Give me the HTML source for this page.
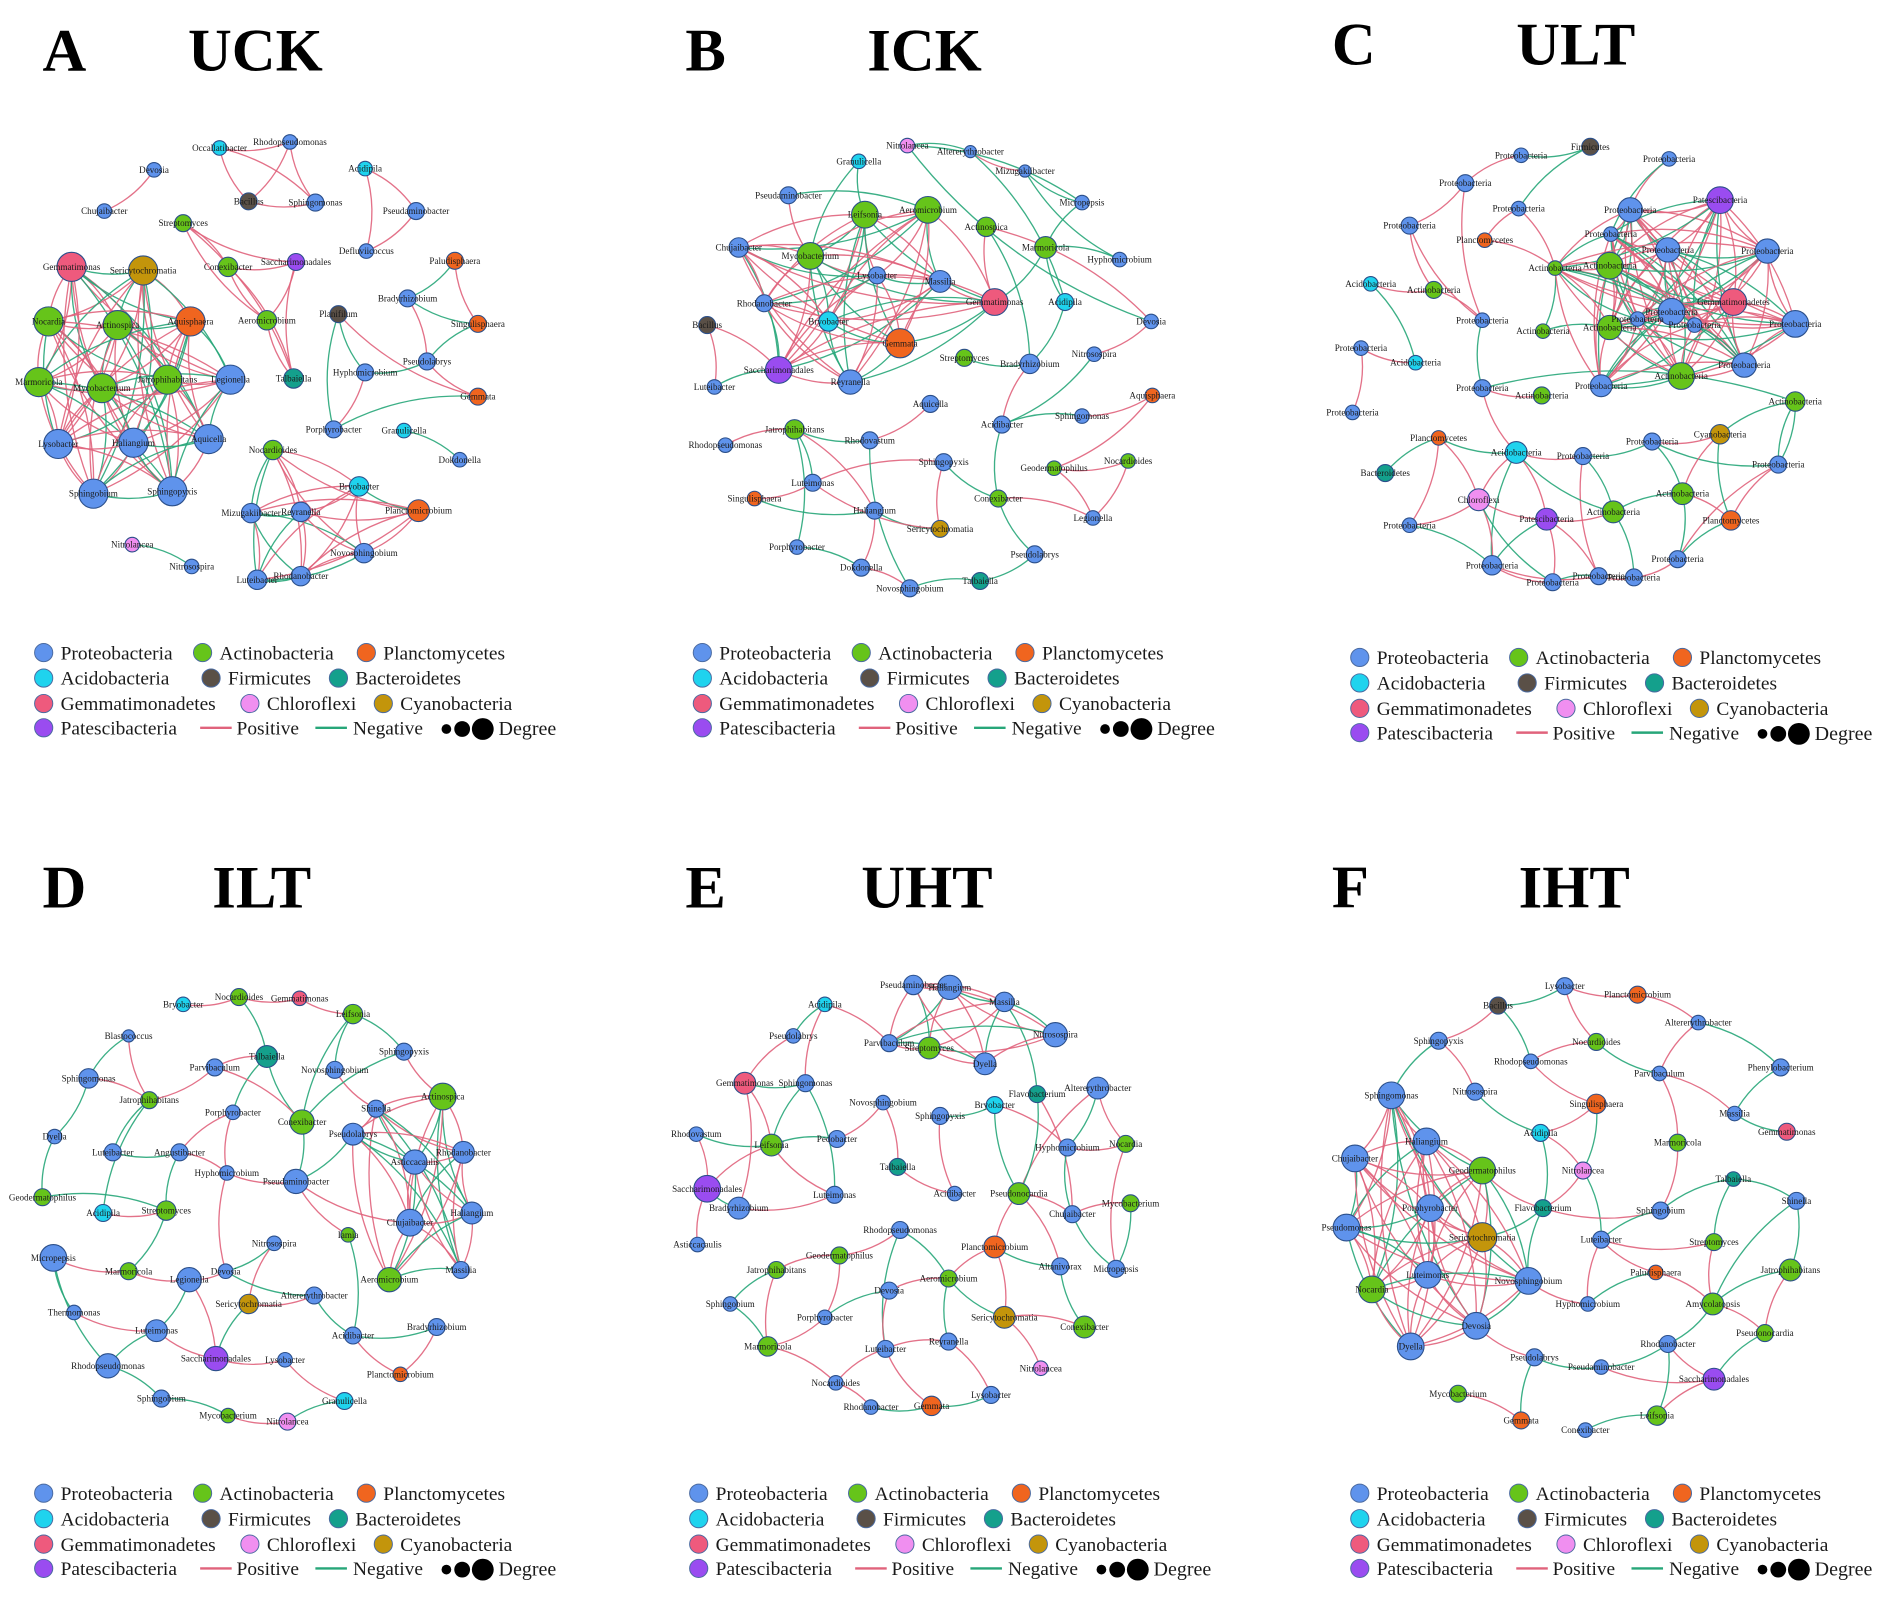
<!DOCTYPE html>
<html><head><meta charset="utf-8"><style>
html,body{margin:0;padding:0;background:#fff;}
svg{display:block;}
text{font-family:"Liberation Serif",serif;}
</style></head><body>
<svg id="fig" xmlns="http://www.w3.org/2000/svg" width="1902" height="1598" viewBox="0 0 1568 1317.4">
<rect width="1568" height="1317.4" fill="#fff"/>
</svg>
<script>
const phylumColors = {p:"#5f93ec",a:"#66c41a",pl:"#f0651f",ac:"#1fd3ee",f:"#5a5047",b:"#14a08c",g:"#ee5a7d",c:"#f08ff0",cy:"#c3950b",pa:"#9a4cf0"};
const phylumNames = {p:"Proteobacteria",a:"Actinobacteria",pl:"Planctomycetes",ac:"Acidobacteria",f:"Firmicutes",b:"Bacteroidetes",g:"Gemmatimonadetes",c:"Chloroflexi",cy:"Cyanobacteria",pa:"Patescibacteria"};
const posColor="#e0637c", negColor="#27a679";

const panelLetters=["A","B","C","D","E","F"];
const panelTitles=["UCK","ICK","ULT","ILT","UHT","IHT"];

const nodesA="Occallatibacter,181,122,ac,6;Rhodopseudomonas,239,117,p,6;Devosia,127,140,p,6;Acidipila,301,139,ac,6;Chujaibacter,86,174,p,6;Bacillus,205,166,f,7;Sphingomonas,260,167,p,7;Pseudaminobacter,343,174,p,7;Streptomyces,151,184,a,7;Defluviicoccus,302,207,p,6;Gemmatimonas,59,220,g,12;Sericytochromatia,118,223,cy,12;Conexibacter,188,220,a,8;Saccharimonadales,244,216,pa,7;Paludisphaera,375,215,pl,7;Nocardia,40,265,a,12;Actinospica,97,268,a,12;Aquisphaera,157,265,pl,12;Bradyrhizobium,336,246,p,7;Aeromicrobium,220,264,a,8;Planifilum,279,259,f,7;Singulisphaera,394,267,pl,7;Marmoricola,32,315,a,12;Mycobacterium,84,320,a,12;Jatrophihabitans,138,313,a,12;Legionella,190,313,p,12;Talbaiella,242,312,b,8;Hyphomicrobium,301,307,p,7;Pseudolabrys,352,298,p,7;Gemmata,394,327,pl,7;Lysobacter,48,366,p,12;Haliangium,110,365,p,12;Aquicella,172,362,p,12;Porphyrobacter,275,354,p,7;Granulicella,333,355,ac,6;Nocardioides,225,371,a,8;Dokdonella,379,379,p,6;Sphingobium,77,407,p,12;Sphingopyxis,142,405,p,12;Bryobacter,296,401,ac,8;Mizugakiibacter,207,423,p,8;Reyranella,248,422,p,8;Planctomicrobium,345,421,pl,9;Nitrolancea,109,449,c,6;Novosphingobium,300,456,p,8;Nitrosospira,158,467,p,6;Luteibacter,212,478,p,8;Rhodanobacter,248,475,p,8";
const edgesA="0-1+,0-5+,0-6+,1-5+,1-6+,5-6+,2-4+,3-7+,3-9+,7-9+,8-12+,8-13+,8-26+,8-19+,12-13+,12-19+,12-26+,13-19+,13-26+,19-26+,14-18-,14-21+,18-21-,18-28+,21-28-,20-27-,20-33-,20-29+,27-33+,27-28-,28-29+,33-29-,34-36-,43-45-";
const clustersA=[[10,11,15,16,17,22,23,24,25,30,31,32,37,38],[35,39,40,41,42,44,46,47]];

const nodesB="Nitrolancea,748,120,c,6;Granulicella,708,133,ac,6;Altererythrobacter,800,125,p,5;Mizugakiibacter,845,141,p,5;Micropepsis,892,167,p,6;Pseudaminobacter,650,161,p,7;Leifsonia,713,177,a,11;Aeromicrobium,765,173,a,11;Actinospica,813,187,a,8;Marmoricola,862,204,a,9;Hyphomicrobium,923,214,p,6;Chujaibacter,609,204,p,8;Mycobacterium,668,211,a,11;Lysobacter,723,227,p,7;Massilia,775,232,p,9;Gemmatimonas,820,249,g,11;Acidipila,878,249,ac,7;Rhodanobacter,630,250,p,7;Bryobacter,683,265,ac,8;Devosia,949,265,p,6;Bacillus,583,268,f,7;Gemmata,742,283,pl,12;Saccharimonadales,642,305,pa,11;Streptomyces,795,295,a,7;Bradyrhizobium,849,300,p,8;Nitrosospira,902,292,p,6;Luteibacter,589,319,p,6;Reyranella,701,315,p,10;Aquisphaera,950,326,pl,6;Aquicella,767,333,p,7;Sphingomonas,892,343,p,6;Acidibacter,826,350,p,7;Jatrophihabitans,655,354,a,8;Rhodovastum,717,363,p,7;Rhodopseudomonas,598,367,p,6;Sphingopyxis,778,381,p,7;Geodermatophilus,869,386,a,6;Nocardioides,930,380,a,6;Luteimonas,670,398,p,7;Singulisphaera,622,411,pl,6;Conexibacter,823,411,a,7;Legionella,901,427,p,6;Haliangium,721,421,p,7;Sericytochromatia,775,436,cy,7;Porphyrobacter,657,451,p,6;Pseudolabrys,853,457,p,7;Dokdonella,710,468,p,7;Talbaiella,808,479,b,7;Novosphingobium,750,485,p,7";
const edgesB="0-2-,0-19-,1-6-,2-3+,3-4-,3-10-,4-9-,9-15-,9-16-,8-15+,8-24-,16-24-,19-25+,25-31-,24-31+,23-24-,28-30+,30-31-,28-36+,36-37+,31-40-,37-41+,20-22+,20-26+,26-22-,32-33-,32-38-,32-44-,32-42+,34-32+,39-42-,39-38+,42-43-,43-35+,35-40-,40-45-,45-47-,47-48-,46-48+,44-46-,42-46+,38-43+,35-38+,29-33+,33-48-,41-40+,41-36+,5-12+,5-7-,10-9-,1-12-,0-4-,2-16-,19-8+";
const clustersB=[[6,7,12,13,14,15,18,21,22,27,11,17]];

const nodesC="0,1254,128,p,6;1,1311,121,f,7;2,1376,131,p,6;3,1208,151,p,7;4,1252,172,p,6;5,1344,173,p,10;6,1418,165,pa,11;7,1162,186,p,7;8,1224,198,pl,6;9,1328,193,p,6;10,1375,206,p,10;11,1457,207,p,10;12,1282,221,a,6;13,1327,219,a,11;14,1429,249,g,11;15,1130,234,ac,6;16,1182,239,a,7;17,1378,257,p,11;18,1350,263,p,6;19,1327,270,a,10;20,1480,267,p,11;21,1397,268,p,6;22,1222,264,p,6;23,1272,273,a,6;24,1122,287,p,6;25,1167,299,ac,6;26,1386,310,a,11;27,1438,301,p,10;28,1320,318,p,9;29,1222,320,p,7;30,1271,326,a,7;31,1480,331,a,8;32,1115,340,p,6;33,1186,361,pl,6;34,1250,373,ac,9;35,1305,376,p,7;36,1362,364,p,7;37,1418,358,cy,8;38,1142,390,b,7;39,1466,383,p,7;40,1387,407,a,9;41,1219,412,c,9;42,1275,428,pa,9;43,1330,422,a,9;44,1427,429,pl,8;45,1162,433,p,6;46,1383,461,p,7;47,1230,466,p,8;48,1318,475,p,7;49,1347,476,p,7;50,1280,480,p,7";
const edgesC="0-1-,1-4-,0-3+,3-7+,7-16+,7-22+,3-22+,8-4+,8-12+,15-16+,15-25-,16-22+,24-25+,24-32+,22-29-,29-30+,23-19-,23-12-,29-31-,33-41+,33-38-,2-5+,2-9-,4-12+,34-35+,34-42+,34-41+,34-47-,35-36-,35-43-,36-37+,36-39-,37-31-,37-40+,39-31-,39-44+,40-43-,40-44+,40-46-,42-43+,42-48+,42-47-,41-47+,41-45+,45-47-,47-50+,50-48-,48-49+,49-46+,46-44-,43-49-,42-50+,41-42+,36-40-,35-48+,34-43-,39-46+,37-44-,31-39-,33-45+,41-50-,47-48+,33-34-,29-34+";
const clustersC=[[5,6,9,10,11,13,14,17,18,19,20,21,26,27,28,12]];

const nodesD="Bryobacter,151,828,ac,6;Nocardioides,197,822,a,7;Gemmatimonas,247,823,g,6;Leifsonia,291,836,a,8;Blastococcus,106,854,p,5;Talbaiella,220,871,b,9;Parvibaculum,177,880,p,7;Sphingopyxis,333,867,p,7;Novosphingobium,276,882,p,7;Sphingomonas,73,889,p,8;Actinospica,365,904,a,11;Jatrophihabitans,123,907,a,7;Porphyrobacter,192,917,p,6;Shinella,310,914,p,7;Conexibacter,249,925,a,10;Dyella,45,937,p,6;Luteibacter,93,950,p,7;Angustibacter,148,950,p,7;Rhodanobacter,382,950,p,9;Pseudolabrys,291,935,p,9;Asticcacaulis,342,958,p,10;Hyphomicrobium,187,967,p,6;Pseudaminobacter,244,974,p,10;Haliangium,389,1000,p,9;Geodermatophilus,35,987,a,7;Acidipila,85,1000,ac,7;Streptomyces,137,998,a,8;Chujaibacter,338,1008,p,11;Iamia,287,1018,a,6;Micropepsis,44,1037,p,11;Devosia,186,1048,p,6;Nitrosospira,226,1025,p,6;Marmoricola,106,1048,a,7;Legionella,156,1055,p,10;Aeromicrobium,321,1055,a,10;Massilia,380,1047,p,7;Sericytochromatia,205,1075,cy,8;Altererythrobacter,259,1068,p,7;Thermomonas,61,1082,p,6;Luteimonas,129,1097,p,9;Acidibacter,291,1101,p,7;Bradyrhizobium,360,1094,p,7;Rhodopseudomonas,89,1126,p,10;Saccharimonadales,178,1120,pa,10;Lysobacter,235,1121,p,6;Planctomicrobium,330,1133,pl,6;Sphingobium,133,1153,p,7;Granulicella,284,1155,ac,7;Mycobacterium,188,1167,a,6;Nitrolancea,237,1172,c,7";
const edgesD="0-1+,1-2+,1-5-,2-3+,3-8-,3-14-,5-12-,5-14-,5-6+,4-9-,9-11+,9-15-,11-6+,11-16-,12-17+,16-17-,17-21+,17-26-,6-14+,8-13+,7-14-,14-22-,21-22+,22-27+,22-19-,15-24-,24-26-,25-26+,25-11-,26-32-,29-32+,29-38-,29-42-,32-33+,33-39-,33-30+,30-31-,31-36+,36-37+,37-40-,40-41-,41-45+,40-45+,36-43-,43-44+,43-39+,39-42-,42-46-,46-48-,48-49+,49-47-,44-47+,38-39+,28-22+,28-40-,33-43+,30-37-,21-30+,12-21+,4-11+,7-10+,3-7-";
const clustersD=[[10,13,18,19,20,23,27,35,34]];

const nodesE="Pseudaminobacter,753,812,p,8;Haliangium,783,814,p,10;Massilia,828,826,p,8;Acidipila,680,828,ac,6;Nitrosospira,870,853,p,10;Parvibaculum,733,860,p,7;Streptomyces,766,864,a,9;Dyella,812,877,p,9;Pseudolabrys,654,854,p,6;Gemmatimonas,614,893,g,9;Sphingomonas,664,893,p,7;Altererythrobacter,905,897,p,9;Flavobacterium,855,902,b,7;Novosphingobium,728,909,p,6;Sphingopyxis,775,920,p,7;Bryobacter,820,911,ac,7;Rhodovastum,574,935,p,6;Leifsonia,636,944,a,9;Pedobacter,690,939,p,7;Hyphomicrobium,880,946,p,7;Nocardia,928,943,a,7;Talbaiella,740,962,b,7;Saccharimonadales,583,980,pa,11;Bradyrhizobium,609,996,p,9;Luteimonas,688,985,p,7;Acidibacter,787,984,p,6;Pseudonocardia,840,984,a,9;Mycobacterium,932,992,a,7;Chujaibacter,884,1001,p,7;Asticcacaulis,575,1026,p,6;Rhodopseudomonas,742,1014,p,7;Planctomicrobium,820,1028,pl,9;Altanivorax,874,1044,p,7;Micropepsis,920,1046,p,7;Geodermatophilus,692,1035,a,7;Jatrophihabitans,640,1047,a,7;Aeromicrobium,782,1054,a,7;Devosia,733,1064,p,7;Sphingobium,602,1075,p,6;Sericytochromatia,828,1086,cy,9;Porphyrobacter,680,1086,p,6;Conexibacter,894,1094,a,9;Marmoricola,633,1110,a,8;Reyranella,782,1106,p,7;Luteibacter,730,1112,p,7;Nitrolancea,858,1128,c,6;Nocardioides,689,1140,p,6;Lysobacter,817,1150,p,7;Rhodanobacter,718,1160,p,6;Gemmata,768,1159,pl,8";
const edgesE="3-8-,3-10+,8-9+,9-10-,9-17+,10-17-,16-17-,17-22+,17-24+,22-23-,9-23+,16-22+,22-29+,23-24+,10-24-,18-17-,18-13+,13-21+,14-25+,14-15-,15-26-,15-19+,11-19-,11-26+,12-26-,12-28+,19-20+,19-28-,26-28+,26-31+,28-33-,27-28+,27-33-,26-32+,31-32-,31-39+,31-36+,32-41-,39-41+,39-45+,36-43-,36-39-,43-47+,43-44+,44-30-,30-34+,34-35+,35-38-,34-40+,40-42+,42-46+,46-48+,48-49-,44-49+,47-49-,37-44+,37-40-,36-37+,30-36-,35-42+,38-42-,46-44+,25-21+,20-33+,2-12-,11-20+,3-5+";
const clustersE=[[0,1,2,4,5,6,7]];

const nodesF="Lysobacter,1290,813,p,7;Planctomicrobium,1350,820,pl,7;Bacillus,1235,829,f,7;Altererythrobacter,1400,843,p,6;Sphingopyxis,1186,858,p,7;Nocardioides,1316,859,a,7;Rhodopseudomonas,1262,875,p,6;Phenylobacterium,1468,880,p,7;Parvibaculum,1368,885,p,6;Sphingomonas,1147,903,p,11;Nitrosospira,1216,900,p,7;Singulisphaera,1316,910,pl,8;Massilia,1430,918,p,6;Gemmatimonas,1473,933,g,7;Haliangium,1176,941,p,11;Acidipila,1270,934,ac,7;Marmoricola,1383,942,a,7;Chujaibacter,1117,955,p,11;Geodermatophilus,1222,965,a,11;Nitrolancea,1305,965,c,7;Talbaiella,1429,972,b,6;Flavobacterium,1272,996,b,7;Shinella,1481,990,p,7;Porphyrobacter,1179,996,p,11;Sphingobium,1369,998,p,7;Pseudomonas,1110,1012,p,11;Sericytochromatia,1222,1020,cy,12;Luteibacter,1320,1022,p,7;Streptomyces,1413,1024,a,7;Luteimonas,1177,1051,p,11;Novosphingobium,1260,1056,p,11;Paludisphaera,1365,1049,pl,6;Jatrophihabitans,1476,1047,a,9;Nocardia,1131,1063,a,11;Hyphomicrobium,1309,1075,p,6;Amycolatopsis,1412,1075,a,9;Devosia,1217,1093,p,11;Pseudonocardia,1455,1099,a,7;Dyella,1163,1110,p,11;Rhodanobacter,1375,1108,p,7;Pseudolabrys,1265,1119,p,7;Pseudaminobacter,1320,1127,p,6;Saccharimonadales,1413,1137,pa,9;Mycobacterium,1202,1149,a,7;Leifsonia,1366,1167,a,8;Gemmata,1254,1171,pl,7;Conexibacter,1307,1179,p,6";
const edgesF="0-1+,0-2-,0-5+,1-3+,2-6-,3-7-,3-8+,5-8-,5-6+,6-11+,7-12-,8-12+,8-16+,12-13-,4-10+,4-9-,10-15-,11-15+,11-19-,15-19+,15-21-,19-21+,19-27-,21-24+,24-20-,20-22-,24-27-,27-28+,28-20-,16-24+,22-32-,32-35-,35-37+,35-39-,37-42-,39-42+,39-41-,41-42+,31-27+,31-34-,31-35+,34-30+,21-30-,40-41-,40-36+,44-42+,44-39-,43-45+,40-45-,46-44-,28-35+,32-37+,22-35-,27-34+,18-21+,26-21-,2-4+";
const clustersF=[[9,14,17,18,23,25,26,29,30,33,36,38]];

const panelNodes=[nodesA,nodesB,nodesC,nodesD,nodesE,nodesF];
const panelEdges=[edgesA,edgesB,edgesC,edgesD,edgesE,edgesF];
const panelClusters=[clustersA,clustersB,clustersC,clustersD,clustersE,clustersF];
const titleX=[[35,155],[565,715],[1098,1250],[35,175],[565,710],[1098,1252]];
const titleY=[58,58,53,748,748,748];
const legendOrigin=[[0,0],[543,0],[1085,4],[0,693],[540,693],[1085,693]];

const NS="http://www.w3.org/2000/svg";
const svg=document.getElementById('fig');
function mk(tag,attrs,parent){const e=document.createElementNS(NS,tag);for(const k in attrs)e.setAttribute(k,attrs[k]);(parent||svg).appendChild(e);return e;}
function parseNodes(s){return s.split(';').map(t=>{const q=t.split(',');return {name:q[0],x:+q[1],y:+q[2],ph:q[3],r:+q[4]};});}
function parseEdges(s,clusters){const out=s.split(',').map(t=>{const m=t.match(/(\d+)-(\d+)([+-])/);return [+m[1],+m[2],m[3]];});
  clusters.forEach(c=>{for(let i=0;i<c.length;i++)for(let j=i+1;j<c.length;j++){out.push([c[i],c[j],((c[i]+c[j])%3===0)?'-':'+']);}});return out;}

for(let p=0;p<6;p++){
  const g=mk('g',{});
  
  
  const nodes=parseNodes(panelNodes[p]);
  const edges=parseEdges(panelEdges[p],panelClusters[p]);
  const L=mk('text',{x:titleX[p][0],y:titleY[p],'font-size':50,'font-weight':'bold',fill:'#000'},g);L.textContent=panelLetters[p];
  
  const T=mk('text',{x:titleX[p][1],y:titleY[p],'font-size':50,'font-weight':'bold',fill:'#000'},g);T.textContent=panelTitles[p];
  
  const eg=mk('g',{fill:'none','stroke-width':1.1,'stroke-opacity':0.9},g);
  edges.forEach((e,k)=>{const a=nodes[e[0]],b=nodes[e[1]];if(!a||!b)return;
    const dx=b.x-a.x,dy=b.y-a.y,s=((e[0]+e[1])%2?1:-1)*0.15;
    const cx=(a.x+b.x)/2-dy*s,cy=(a.y+b.y)/2+dx*s;
    const path=mk('path',{d:`M${a.x},${a.y}Q${cx},${cy} ${b.x},${b.y}`,stroke:e[2]==='+'?posColor:negColor},eg);
    
    
  });
  nodes.forEach(n=>{
    const c=mk('circle',{cx:n.x,cy:n.y,r:n.r,fill:phylumColors[n.ph],stroke:'#2b4f8a','stroke-width':0.9},g);
    
    
  });
  nodes.forEach(n=>{
    const t=mk('text',{x:n.x,y:n.y+2.5,'font-size':7.5,'text-anchor':'middle',fill:'#1a1a1a'},g);
    t.textContent=p===2?phylumNames[n.ph]:n.name;
    
    
  });
  // legend
  const [ox,oy]=legendOrigin[p];
  const lg=mk('g',{transform:`translate(${ox},${oy})`},g);
  
  
  const items=[['p',36,538],['a',167,538],['pl',302,538],['ac',36,559],['f',174,559],['b',279,559],['g',36,580],['c',206,580],['cy',316,580],['pa',36,600]];
  items.forEach(it=>{
    const c=mk('circle',{cx:it[1],cy:it[2],r:7.5,fill:phylumColors[it[0]],stroke:'#4a6aa0','stroke-width':0.8},lg);
    
    const t=mk('text',{x:it[1]+14,y:it[2]+5.5,'font-size':16,fill:'#1a1a1a'},lg);t.textContent=phylumNames[it[0]];
    
  });
  const l1=mk('line',{x1:165,y1:600,x2:191,y2:600,stroke:posColor,'stroke-width':2},lg);
  
  const t1=mk('text',{x:195,y:605.5,'font-size':16,fill:'#1a1a1a'},lg);t1.textContent='Positive';
  
  const l2=mk('line',{x1:260,y1:600,x2:286,y2:600,stroke:negColor,'stroke-width':2},lg);
  
  const t2=mk('text',{x:291,y:605.5,'font-size':16,fill:'#1a1a1a'},lg);t2.textContent='Negative';
  
  [[368,4],[381,6.5],[398,9]].forEach(d=>{const c=mk('circle',{cx:d[0],cy:601,r:d[1],fill:'#000'},lg);
    });
  const t3=mk('text',{x:411,y:606,'font-size':16.5,fill:'#1a1a1a'},lg);t3.textContent='Degree';
  
}
</script>
</body></html>
